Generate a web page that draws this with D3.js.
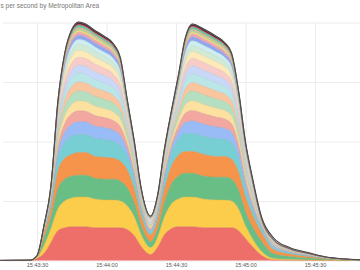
<!DOCTYPE html>
<html><head><meta charset="utf-8">
<script src="https://cdn.jsdelivr.net/npm/d3@7"></script>
<style>html,body{margin:0;padding:0;background:#fff;overflow:hidden}</style>
</head><body>
<svg id="chart" width="360" height="270"></svg>
<script>
const title = "s per second by Metropolitan Area";
const times = ["15:43:14","15:43:27","15:43:30","15:43:33","15:43:36","15:43:39","15:43:42","15:43:45","15:43:48","15:43:51","15:43:55","15:43:59","15:44:03","15:44:06","15:44:09","15:44:12","15:44:15","15:44:19","15:44:22","15:44:25","15:44:28","15:44:31","15:44:34","15:44:37","15:44:42","15:44:47","15:44:51","15:44:54","15:44:57","15:45:00","15:45:03","15:45:07","15:45:12","15:45:19","15:45:27","15:45:35","15:45:42","15:45:50"];
const xTickLabels = ["15:43:30","15:44:00","15:44:30","15:45:00","15:45:30"];
const yTickValues = [0, 60, 120, 180, 240];

const metro01 = [0,.05,2,7,18,30,33,34,34,34,33,33,33,33,31,25,14,6,13,26,32,34,34,34,33,33,33,33,30,22,14,5,.5,.2,.1,0,0,0];
const metro02 = [0,0,1,8,14,22,27,29,30,30,29,28,28,27,24,19,12,7,10,18,25,28,30,30,29,28,28,27,22,13,8,4,1.5,.8,.4,.2,.1,0];
const metro03 = [0,0,.5,7,11,20,22,22,22,22,21,21,21,20,18,14,9,6,8,14,20,23,24,24,23,23,23,22,19,14,12,10,5,3,2,1,.5,.2];
const metro04 = [0,0,.5,5,9,18,21,22,23,23,22,22,21,20,18,14,10,7,9,14,18,21,22,22,22,21,21,20,18,15,12,9,4,2.5,1.5,.7,.3,.1];
const metro05 = [0,0,.3,3,6,13,16,18,18,18,18,18,17,16,14,10,6,3,5,9,13,16,18,18,18,18,17,17,14,9,6,4,2,1.2,.7,.3,.15,.05];
const metro06 = [0,.05,.05,.6,2,6.6,10.4,12.4,13,12.7,12.5,12,11.3,10.1,6.5,4.4,2.5,1.8,2.3,3.6,4.9,7.4,11.1,12.6,12.4,11.8,11.2,10.3,7.8,5.3,3.5,2,1.8,1,.6,.25,.12,.06];
const metro07 = [0,.02,.04,.5,1.7,5.6,8.8,10.5,11,10.8,10.6,10.1,9.6,8.6,5.5,3.7,2.1,1.5,2,3.1,4.2,6.3,9.4,10.7,10.5,10,9.5,8.7,6.6,4.5,3,1.2,1,.5,.3,.1,.05,.03];
const metro08 = [0,0,.03,.5,1.5,5.1,8,9.5,10,9.8,9.6,9.2,8.7,7.8,5,3.4,1.9,1.4,1.8,2.8,3.8,5.7,8.5,9.7,9.5,9.1,8.6,7.9,6,4.1,2.7,.8,.6,.3,.2,.05,.02,.01];
const metro09 = [0,0,.03,.4,1.4,5,8.1,9.6,10,9.9,9.7,9.3,8.8,7.9,5.1,3.3,1.8,1.3,1.7,2.7,3.7,5.6,8.4,9.8,9.6,9.2,8.7,8,6.1,4,2.6,.8,.6,.3,.2,.05,.02,.01];
const metro10 = [0,0,.03,.4,1.4,4.6,7.2,8.6,9,8.8,8.6,8.3,7.8,7,4.5,3.1,1.7,1.3,1.6,2.5,3.4,5.1,7.7,8.7,8.6,8.2,7.7,7.1,5.4,3.7,2.4,.7,.5,.3,.2,.05,.02,.01];
const metro11 = [0,0,.03,.4,1.3,4.5,7.1,8.5,9,8.9,8.7,8.2,7.7,6.9,4.4,3,1.7,1.2,1.5,2.4,3.3,5,7.6,8.8,8.6,8.3,7.8,7.2,5.5,3.6,2.3,.7,.5,.3,.2,.05,.02,.01];
const metro12 = [0,0,.03,.4,1.2,4.1,6.4,7.6,8,7.8,7.7,7.4,7,6.2,4,2.7,1.5,1.1,1.4,2.2,3,4.6,6.8,7.8,7.6,7.3,6.9,6.3,4.8,3.3,2.2,.6,.5,.2,.1,.05,.02,.01];
const metro13 = [0,0,.03,.3,1.1,4,6.3,7.5,8,7.9,7.7,7.3,6.9,6.1,3.9,2.6,1.4,1.1,1.3,2.1,2.9,4.5,6.7,7.9,7.7,7.4,7,6.4,4.9,3.2,2.1,.5,.4,.2,.1,.05,.02,.01];
const metro14 = [0,0,.03,.3,1.1,3.6,5.6,6.7,7,6.9,6.7,6.4,6.1,5.5,3.5,2.4,1.3,1,1.3,2,2.7,4,6,6.8,6.7,6.4,6,5.5,4.2,2.9,1.9,.4,.3,.2,.1,.05,.02,.01];
const metro15 = [0,0,.03,.3,.9,3.1,4.8,5.7,6,5.9,5.8,5.5,5.2,4.7,3,2,1.1,.8,1.1,1.7,2.3,3.4,5.1,5.8,5.7,5.5,5.2,4.7,3.6,2.5,1.6,.4,.3,.2,.1,.05,.02,.01];
const metro16 = [0,0,.03,.2,.8,2.6,4,4.8,5,4.9,4.8,4.6,4.4,3.9,2.5,1.7,1,.7,.9,1.4,1.9,2.9,4.3,4.9,4.8,4.6,4.3,4,3,2.1,1.4,.3,.3,.1,.1,.05,.02,.01];
const metro17 = [0,0,.03,.2,.6,2,3.2,3.8,4,3.9,3.8,3.7,3.5,3.1,2,1.4,.8,.6,.7,1.1,1.5,2.3,3.4,3.9,3.8,3.6,3.4,3.2,2.4,1.6,1.1,.3,.3,.1,.05,.03,.02,.01];
const metro18 = [0,0,.03,.1,.5,1.5,2.4,2.9,3,2.9,2.9,2.8,2.6,2.3,1.5,1,.6,.4,.5,.8,1.1,1.7,2.6,2.9,2.9,2.7,2.6,2.4,1.8,1.2,.8,.2,.2,.1,.05,.03,.02,.01];
const metro19 = [0,0,.03,.1,.3,1,1.6,1.9,2,2,1.9,1.8,1.7,1.6,1,.7,.4,.3,.4,.6,.8,1.1,1.7,1.9,1.9,1.8,1.7,1.6,1.2,.8,.5,.2,.2,.1,.05,.03,.02,.01];
const metro20 = [0,0,.02,.07,.2,.8,1.2,1.4,1.5,1.5,1.4,1.4,1.3,1.2,.8,.5,.3,.2,.3,.4,.6,.9,1.3,1.5,1.4,1.4,1.3,1.2,.9,.6,.4,.15,.15,.08,.04,.02,.01,.01];
const metro21 = [0,0,.02,.07,.2,.7,1.2,1.4,1.5,1.4,1.4,1.3,1.3,1.1,.8,.5,.3,.2,.3,.4,.6,.9,1.3,1.5,1.5,1.4,1.3,1.2,.9,.6,.4,.15,.15,.08,.04,.02,.01,.01];
const metro22 = [0,0,.03,.1,.3,1,1.6,1.9,2,2,1.9,1.8,1.7,1.6,1,.7,.4,.3,.4,.6,.8,1.1,1.7,1.9,1.9,1.8,1.7,1.6,1.2,.8,.5,.2,.2,.1,.05,.03,.02,.01];
const metro23 = [0,0,.02,.05,.15,.5,.8,.95,1,1,1,.9,.9,.8,.5,.3,.2,.15,.2,.3,.4,.6,.85,1,.95,.9,.85,.8,.6,.4,.3,.1,.1,.05,.03,.02,.01,.01];
const metro24 = [0,0,.03,.1,.3,1,1.6,2,2.3,2.2,2.1,2,1.9,1.7,1,.7,.4,.3,.4,.6,.8,1.1,1.8,2.2,2.1,2,1.9,1.7,1.2,.8,.5,.2,.2,.1,.05,.03,.02,.01];
const metro25 = [.2,.3,.1,.05,.1,.1,.1,.1,.1,.1,.1,.1,.1,.1,.1,.1,.1,.1,.1,.1,.1,.1,.1,.1,.1,.1,.1,.1,.1,.4,.8,1.0,1.4,.8,.6,.25,.15,.08];
const metro26 = [.1,.1,.1,.05,.1,.1,.1,.1,.1,.1,.1,.1,.1,.1,.1,.1,.1,.1,.1,.1,.1,.1,.1,.1,.1,.1,.1,.1,.1,.3,.5,.5,.5,.3,.2,.1,.05,.04];

const seriesKeys = ["metro01","metro02","metro03","metro04","metro05","metro06","metro07","metro08","metro09","metro10","metro11","metro12","metro13","metro14","metro15","metro16","metro17","metro18","metro19","metro20","metro21","metro22","metro23","metro24","metro25","metro26"];
const seriesValues = [metro01,metro02,metro03,metro04,metro05,metro06,metro07,metro08,metro09,metro10,metro11,metro12,metro13,metro14,metro15,metro16,metro17,metro18,metro19,metro20,metro21,metro22,metro23,metro24,metro25,metro26];
const seriesColors = ["#EE6F69","#FBCD4A","#69BE85","#F7944B","#78CFD3","#99BBF6","#F2A7A1","#FDE1A0","#B4DFC0","#F9C6A0","#BBE6E8","#C9D8F8","#F7CCC8","#FDEAB8","#D0EAD6","#CCEEF0","#8EA7EE","#EBA6B8","#FBD777","#A6D9AE","#F5B183","#57CFAE","#E0605F","#5B2838","#BDBDBD","#666666"];

const parse = d3.timeParse("%H:%M:%S");
const rows = times.map((t, i) => {
  const r = {time: parse(t)};
  seriesKeys.forEach((k, j) => r[k] = seriesValues[j][i]);
  return r;
});

const W = 360, H = 270;
const svg = d3.select("#chart");
const x = d3.scaleTime().domain([parse("15:43:30"), parse("15:45:30")]).range([37, 315]);
const y = d3.scaleLinear().domain([0, 240]).range([260.5, 22.5]);
const font = "'Liberation Sans', Arial, sans-serif";

// horizontal grid
const yAxis = svg.append("g").attr("transform", "translate(3,0)")
  .call(d3.axisLeft(y).tickValues(yTickValues).tickSize(-357).tickFormat(""));
yAxis.select(".domain").remove();
yAxis.selectAll("line").attr("stroke", "#ececec");

// x grid + labels
const xAxis = svg.append("g").attr("transform", "translate(0,260.5)")
  .call(d3.axisBottom(x).tickValues(xTickLabels.map(parse)).tickSize(-238).tickPadding(3)
    .tickFormat(d3.timeFormat("%H:%M:%S")));
xAxis.select(".domain").remove();
xAxis.selectAll("line").attr("stroke", "#ececec");
xAxis.selectAll("text").attr("fill", "#555").style("font-family", font).style("font-size", "5.5px");

svg.append("defs").append("clipPath").attr("id", "clip")
  .append("rect").attr("x", 0).attr("y", 0).attr("width", W).attr("height", 261);

const stacked = d3.stack().keys(seriesKeys)(rows);
const area = d3.area().x(d => x(d.data.time)).y0(d => y(d[0])).y1(d => y(d[1])).curve(d3.curveMonotoneX);
const line = d3.line().x(d => x(d.data.time)).y(d => y(d[1])).curve(d3.curveMonotoneX);

const g = svg.append("g").attr("clip-path", "url(#clip)");
g.selectAll("path.area").data(stacked).join("path").attr("class", "area")
  .attr("d", area).attr("fill", (d, i) => seriesColors[i]);
g.selectAll("path.edge").data(stacked).join("path").attr("class", "edge")
  .attr("d", line).attr("fill", "none")
  .attr("stroke", (d, i) => i === seriesKeys.length - 1 ? "#4a4a4a" : d3.color(seriesColors[i]).darker(0.35))
  .attr("stroke-width", (d, i) => i === seriesKeys.length - 1 ? 1.1 : 0.5);

svg.append("text").attr("x", 0.5).attr("y", 8).text(title)
  .attr("fill", "#777").style("font-family", font).style("font-size", "6.5px");
</script>
</body></html>
